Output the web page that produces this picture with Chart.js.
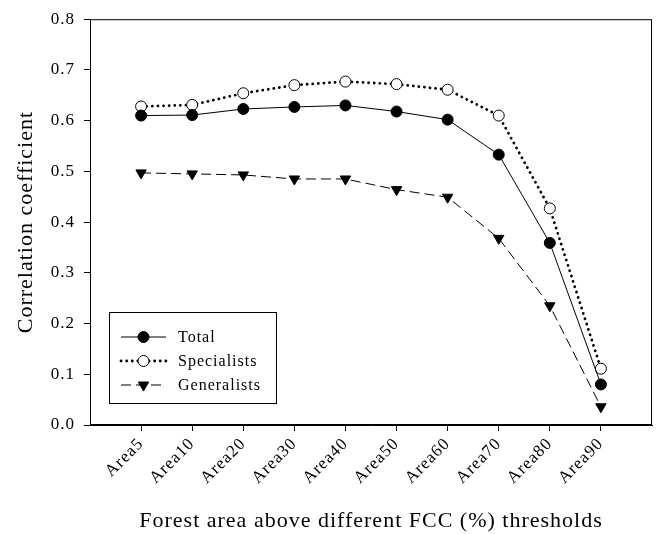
<!DOCTYPE html>
<html>
<head>
<meta charset="utf-8">
<script src="https://cdn.jsdelivr.net/npm/chart.js@4/dist/chart.umd.min.js"></script>
<style>
  html, body { margin: 0; padding: 0; background: #fff; }
  #wrap { width: 659px; height: 534px; }
</style>
</head>
<body>
<div id="wrap"><canvas id="c" width="659" height="534"></canvas></div>
<script>
const categories = ['Area5', 'Area10', 'Area20', 'Area30', 'Area40', 'Area50', 'Area60', 'Area70', 'Area80', 'Area90'];
const total = [0.610, 0.611, 0.623, 0.627, 0.630, 0.618, 0.602, 0.533, 0.359, 0.080];
const specialists = [0.628, 0.631, 0.654, 0.670, 0.677, 0.672, 0.661, 0.610, 0.427, 0.111];
const generalists = [0.497, 0.495, 0.493, 0.485, 0.485, 0.464, 0.449, 0.368, 0.235, 0.036];
const yTicks = [0, 0.1, 0.2, 0.3, 0.4, 0.5, 0.6, 0.7, 0.8];

const serif = '"Liberation Serif", "Times New Roman", serif';

function toPoints(values) {
  return values.map((v, i) => ({ x: i, y: v }));
}

// the original typesetting is loosely tracked
const tracking = {
  id: 'tracking',
  beforeDraw(chart) { chart.ctx.letterSpacing = '1px'; }
};

// box frame around the plot area
const frame = {
  id: 'frame',
  afterDraw(chart) {
    const { ctx, chartArea: a } = chart;
    ctx.save();
    ctx.strokeStyle = '#000';
    ctx.lineWidth = 1;
    ctx.strokeRect(a.left + 0.5, a.top + 0.5, a.right - a.left - 1, a.bottom - a.top - 1);
    ctx.restore();
  }
};

// legend drawn like the original: line sample with marker in the middle
const boxLegend = {
  id: 'boxLegend',
  afterDraw(chart) {
    const ctx = chart.ctx;
    const x0 = 109, y0 = 312, w = 167, h = 91;
    ctx.save();
    ctx.fillStyle = '#fff';
    ctx.fillRect(x0, y0, w, h);
    ctx.strokeStyle = '#000';
    ctx.lineWidth = 1;
    ctx.strokeRect(x0 + 0.5, y0 + 0.5, w, h);
    chart.data.datasets.forEach((ds, i) => {
      const y = 337 + i * 24;
      ctx.save();
      ctx.strokeStyle = ds.borderColor;
      ctx.lineWidth = ds.borderWidth;
      ctx.lineCap = ds.borderCapStyle || 'butt';
      ctx.setLineDash(ds.borderDash || []);
      ctx.beginPath();
      ctx.moveTo(121, y);
      ctx.lineTo(166, y);
      ctx.stroke();
      ctx.restore();
      ctx.save();
      ctx.fillStyle = ds.pointBackgroundColor;
      ctx.strokeStyle = ds.pointBorderColor;
      ctx.lineWidth = 1;
      Chart.helpers.drawPoint(ctx, {
        pointStyle: ds.pointStyle,
        radius: ds.pointRadius,
        rotation: ds.pointRotation || 0,
        borderWidth: 1
      }, 143.5, y);
      ctx.restore();
      ctx.fillStyle = '#000';
      ctx.font = '16px ' + serif;
      ctx.textBaseline = 'middle';
      ctx.fillText(ds.label, 178, y + 1);
    });
    ctx.restore();
  }
};

new Chart(document.getElementById('c'), {
  type: 'line',
  data: {
    datasets: [
      {
        label: 'Total',
        data: toPoints(total),
        borderColor: '#000',
        borderWidth: 1,
        pointStyle: 'circle',
        pointRadius: 5.5,
        pointBackgroundColor: '#000',
        pointBorderColor: '#000',
        pointBorderWidth: 1
      },
      {
        label: 'Specialists',
        data: toPoints(specialists),
        borderColor: '#000',
        borderWidth: 2.8,
        borderDash: [0.1, 5.5],
        borderCapStyle: 'round',
        pointStyle: 'circle',
        pointRadius: 5.5,
        pointBackgroundColor: '#fff',
        pointBorderColor: '#000',
        pointBorderWidth: 1
      },
      {
        label: 'Generalists',
        data: toPoints(generalists),
        borderColor: '#000',
        borderWidth: 1,
        borderDash: [10, 5],
        pointStyle: 'triangle',
        pointRotation: 180,
        pointRadius: 6,
        pointBackgroundColor: '#000',
        pointBorderColor: '#000',
        pointBorderWidth: 1
      }
    ]
  },
  options: {
    responsive: false,
    animation: false,
    layout: { padding: { top: 16, right: 2, left: 0, bottom: 0 } },
    plugins: {
      legend: { display: false },
      tooltip: { enabled: false }
    },
    scales: {
      x: {
        type: 'linear',
        min: -1,
        max: 10,
        afterFit(scale) { scale.height = 109; },
        afterBuildTicks(scale) {
          scale.ticks = categories.map((c, i) => ({ value: i }));
        },
        ticks: {
          color: '#000',
          font: { family: serif, size: 17 },
          maxRotation: 45,
          minRotation: 45,
          padding: 3,
          callback: (v) => categories[v]
        },
        grid: { drawOnChartArea: false, drawTicks: true, tickLength: 6, color: '#000' },
        border: { color: '#000' },
        title: {
          display: true,
          text: 'Forest area above different FCC (%) thresholds',
          color: '#000',
          font: { family: serif, size: 22 },
          padding: { bottom: 0 }
        }
      },
      y: {
        min: 0,
        max: 0.8,
        afterFit(scale) { scale.width = 90; },
        afterBuildTicks(scale) {
          scale.ticks = yTicks.map(v => ({ value: v }));
        },
        ticks: {
          color: '#000',
          font: { family: serif, size: 17 },
          padding: 9,
          callback: (v) => v.toFixed(1)
        },
        grid: { drawOnChartArea: false, drawTicks: true, tickLength: 6, color: '#000' },
        border: { color: '#000' },
        title: {
          display: true,
          text: 'Correlation coefficient',
          color: '#000',
          font: { family: serif, size: 22 },
          padding: { top: 13 }
        }
      }
    }
  },
  plugins: [tracking, frame, boxLegend]
});
</script>
</body>
</html>
